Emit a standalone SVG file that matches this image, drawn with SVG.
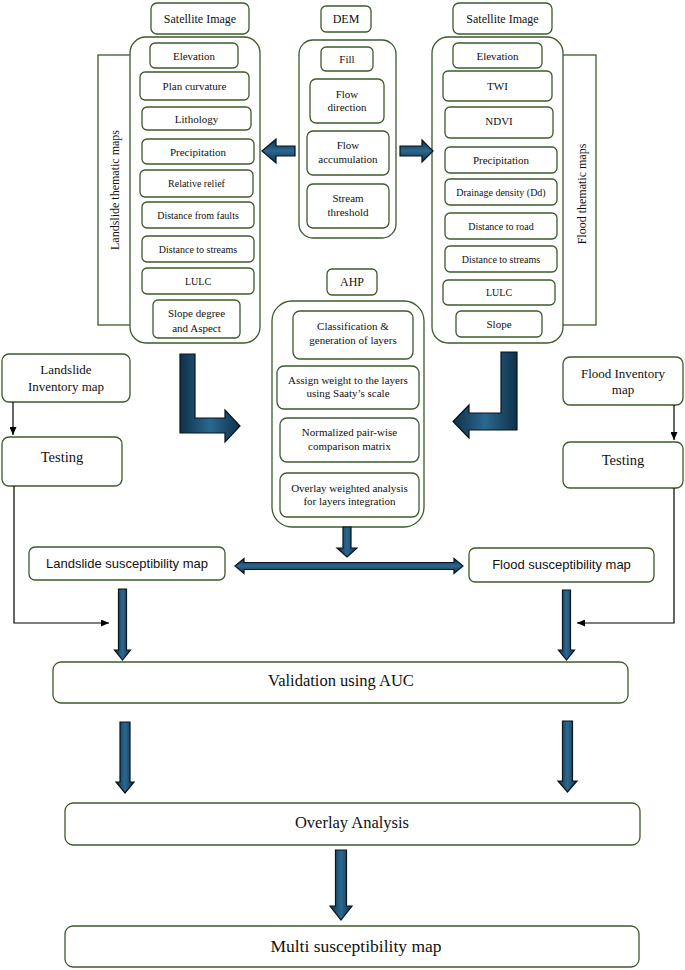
<svg xmlns="http://www.w3.org/2000/svg" width="685" height="970" viewBox="0 0 685 970">
<defs>
<linearGradient id="gv" x1="0" y1="0" x2="1" y2="0">
<stop offset="0" stop-color="#0f3149"/><stop offset="0.5" stop-color="#2a6890"/><stop offset="1" stop-color="#0f3149"/>
</linearGradient>
<linearGradient id="gh" x1="0" y1="0" x2="0" y2="1">
<stop offset="0" stop-color="#0f3149"/><stop offset="0.5" stop-color="#2a6890"/><stop offset="1" stop-color="#0f3149"/>
</linearGradient>
<marker id="ah" markerUnits="userSpaceOnUse" markerWidth="8" markerHeight="7" refX="8" refY="3.5" orient="auto">
<path d="M0,0 L8,3.5 L0,7 Z" fill="#000"/>
</marker>
</defs>
<style>
.b{fill:#fff;stroke:#3b5b2b;stroke-width:1.3}
.br{fill:none;stroke:#3b5b2b;stroke-width:1.3}
.t{font-family:"Liberation Serif","Times New Roman",serif;fill:#111;text-anchor:middle;dominant-baseline:central}
.s{font-family:"Liberation Sans",Arial,sans-serif;fill:#111;text-anchor:middle;dominant-baseline:central;font-size:13px}
.f11{font-size:11px}.f10{font-size:10px}.f12{font-size:12px}.f13{font-size:13px}.f14{font-size:14.5px}.f17{font-size:16.5px}.f18{font-size:17.5px}
.av{fill:url(#gv);stroke:#08131c;stroke-width:1.2}
.ahz{fill:url(#gh);stroke:#08131c;stroke-width:1.2}
.ln{fill:none;stroke:#000;stroke-width:1.2}
</style>

<g id="landslide-thematic">
<rect class="br" x="98" y="55" width="40" height="270"/>
<text class="t f12" transform="translate(115,190) rotate(-90)">Landslide thematic maps</text>
<rect class="b" x="151" y="3" width="98" height="31" rx="6"/>
<text class="t f12" x="200" y="18.5">Satellite Image</text>
<rect class="b" x="130" y="37" width="130" height="306" rx="16"/>
<rect class="b" x="150" y="43" width="88" height="25" rx="5"/>
<text class="t f11" x="194" y="55.5">Elevation</text>
<rect class="b" x="140" y="72" width="109" height="28" rx="5"/>
<text class="t f11" x="194.5" y="86">Plan curvature</text>
<rect class="b" x="142" y="107" width="109" height="23" rx="5"/>
<text class="t f11" x="196.5" y="118.5">Lithology</text>
<rect class="b" x="142" y="139" width="112" height="25" rx="5"/>
<text class="t f11" x="198" y="151.5">Precipitation</text>
<rect class="b" x="140" y="170" width="113" height="27" rx="5"/>
<text class="t f10" x="196.5" y="183.5">Relative relief</text>
<rect class="b" x="142" y="202" width="112" height="26" rx="5"/>
<text class="t f10" x="198" y="215">Distance from faults</text>
<rect class="b" x="142" y="236" width="112" height="26" rx="5"/>
<text class="t f10" x="198" y="249">Distance to streams</text>
<rect class="b" x="142" y="268" width="112" height="26" rx="5"/>
<text class="t f10" x="198" y="281">LULC</text>
<rect class="b" x="153" y="300" width="87" height="38" rx="5"/>
<text class="t f11" x="196.5" y="313">Slope degree</text>
<text class="t f11" x="196.5" y="327.5">and Aspect</text>
</g>

<g id="dem">
<rect class="b" x="321" y="6" width="50" height="26" rx="5"/>
<text class="t f12" x="346" y="19">DEM</text>
<rect class="b" x="299" y="40" width="97" height="198" rx="14"/>
<rect class="b" x="321" y="47" width="52" height="24" rx="5"/>
<text class="t f11" x="347" y="59">Fill</text>
<rect class="b" x="310" y="79" width="74" height="44" rx="6"/>
<text class="t f11" x="347" y="93.5">Flow</text>
<text class="t f11" x="347" y="107">direction</text>
<rect class="b" x="307" y="131" width="82" height="44" rx="6"/>
<text class="t f11" x="348" y="145">Flow</text>
<text class="t f11" x="348" y="158.5">accumulation</text>
<rect class="b" x="307" y="184" width="82" height="44" rx="6"/>
<text class="t f11" x="348" y="198">Stream</text>
<text class="t f11" x="348" y="211.5">threshold</text>
</g>

<g id="flood-thematic">
<rect class="br" x="556" y="55" width="40" height="270"/>
<text class="t f12" transform="translate(582,194) rotate(-90)">Flood thematic maps</text>
<rect class="b" x="453" y="3" width="99" height="31" rx="6"/>
<text class="t f12" x="502.5" y="18.5">Satellite Image</text>
<rect class="b" x="432" y="37" width="131" height="306" rx="16"/>
<rect class="b" x="453" y="43" width="89" height="25" rx="5"/>
<text class="t f11" x="497.5" y="55.5">Elevation</text>
<rect class="b" x="443" y="71" width="109" height="30" rx="5"/>
<text class="t f11" x="497.5" y="86">TWI</text>
<rect class="b" x="445" y="107" width="108" height="31" rx="5"/>
<text class="t f11" x="499" y="121">NDVI</text>
<rect class="b" x="445" y="147" width="112" height="26" rx="5"/>
<text class="t f11" x="501" y="160">Precipitation</text>
<rect class="b" x="445" y="179" width="112" height="26" rx="5"/>
<text class="t f10" x="501" y="192">Drainage density (Dd)</text>
<rect class="b" x="445" y="213" width="112" height="26" rx="5"/>
<text class="t f10" x="501" y="226">Distance to road</text>
<rect class="b" x="445" y="246" width="112" height="26" rx="5"/>
<text class="t f10" x="501" y="259">Distance to streams</text>
<rect class="b" x="443" y="280" width="112" height="25" rx="5"/>
<text class="t f10" x="499" y="292.5">LULC</text>
<rect class="b" x="456" y="311" width="86" height="26" rx="5"/>
<text class="t f11" x="499" y="324">Slope</text>
</g>

<g id="ahp">
<rect class="b" x="327" y="269" width="50" height="26" rx="5"/>
<text class="t f12" x="352" y="282">AHP</text>
<rect class="b" x="272" y="301" width="152" height="226" rx="20"/>
<rect class="b" x="293" y="311" width="120" height="48" rx="7"/>
<text class="t f11" x="353" y="326">Classification &amp;</text>
<text class="t f11" x="353" y="339.5">generation of layers</text>
<rect class="b" x="277" y="366" width="142" height="43" rx="7"/>
<text class="t f11" x="348" y="379.5">Assign weight to the layers</text>
<text class="t f11" x="348" y="393">using Saaty’s scale</text>
<rect class="b" x="280" y="418" width="139" height="44" rx="7"/>
<text class="t f11" x="349.5" y="432">Normalized pair-wise</text>
<text class="t f11" x="349.5" y="445.5">comparison matrix</text>
<rect class="b" x="280" y="473" width="139" height="44" rx="7"/>
<text class="t f11" x="349.5" y="487.5">Overlay weighted analysis</text>
<text class="t f11" x="349.5" y="501">for layers integration</text>
</g>

<g id="landslide-inventory">
<rect class="b" x="2" y="354" width="128" height="48" rx="7"/>
<text class="t f13" x="66" y="369.5">Landslide</text>
<text class="t f13" x="66" y="386">Inventory map</text>
</g>
<g id="testing-left">
<rect class="b" x="2" y="437" width="120" height="49" rx="7"/>
<text class="t f14" x="62" y="457">Testing</text>
</g>
<g id="flood-inventory">
<rect class="b" x="563" y="357" width="120" height="48" rx="7"/>
<text class="t f13" x="623" y="373">Flood Inventory</text>
<text class="t f13" x="623" y="389">map</text>
</g>
<g id="testing-right">
<rect class="b" x="563" y="442" width="120" height="46" rx="7"/>
<text class="t f14" x="623" y="460">Testing</text>
</g>
<g id="landslide-susceptibility">
<rect class="b" x="29" y="547" width="196" height="33" rx="6"/>
<text class="s" x="127" y="563">Landslide susceptibility map</text>
</g>
<g id="flood-susceptibility">
<rect class="b" x="469" y="548" width="185" height="34" rx="6"/>
<text class="s" x="561.5" y="564">Flood susceptibility map</text>
</g>
<g id="validation">
<rect class="b" x="53" y="662" width="575" height="41" rx="8"/>
<text class="t f17" x="341" y="680">Validation using AUC</text>
</g>
<g id="overlay">
<rect class="b" x="65" y="803" width="575" height="42" rx="8"/>
<text class="t f17" x="352" y="822">Overlay Analysis</text>
</g>
<g id="multi">
<rect class="b" x="65" y="926" width="574" height="41" rx="8"/>
<text class="t f18" x="356" y="945.5">Multi susceptibility map</text>
</g>

<g id="connectors">
<path class="ahz" d="M295,146 L276,146 L276,139 L262,151 L276,163 L276,156 L295,156 Z"/>
<path class="ahz" d="M400,146 L422,146 L422,140 L433,151 L422,162 L422,156 L400,156 Z"/>
<path class="av" d="M180,354 L195,354 L195,418 L225,418 L225,410 L240,426 L225,442 L225,433 L180,433 Z"/>
<path class="av" d="M517,352 L501,352 L501,413 L469,413 L469,405 L453,421.5 L469,438 L469,430 L517,430 Z"/>
<path class="av" d="M343,527 L351,527 L351,548 L357,548 L347,557 L337,548 L343,548 Z"/>
<path class="ahz" d="M235,566 L244,558.5 L244,562.5 L454,562.5 L454,558.5 L463,566 L454,573.5 L454,569.5 L244,569.5 L244,573.5 Z"/>
<path class="av" d="M118.5,589 L126.5,589 L126.5,650 L130.5,650 L122.5,660 L114.5,650 L118.5,650 Z"/>
<path class="av" d="M562.5,590 L570.5,590 L570.5,650 L574.5,650 L566.5,660 L558.5,650 L562.5,650 Z"/>
<path class="av" d="M120,722 L130,722 L130,782 L134,782 L125,793 L116,782 L120,782 Z"/>
<path class="av" d="M562.5,721 L572.5,721 L572.5,781 L577,781 L567.5,792 L558,781 L562.5,781 Z"/>
<path class="av" d="M335.5,850 L346.5,850 L346.5,906 L352,906 L341,920 L330,906 L335.5,906 Z"/>
<path class="ln" d="M13,402 L13,435" marker-end="url(#ah)"/>
<path class="ln" d="M14,486 L14,623 L109,623" marker-end="url(#ah)"/>
<path class="ln" d="M674,405 L674,440" marker-end="url(#ah)"/>
<path class="ln" d="M674,488 L674,623 L577,623" marker-end="url(#ah)"/>
</g>
</svg>
